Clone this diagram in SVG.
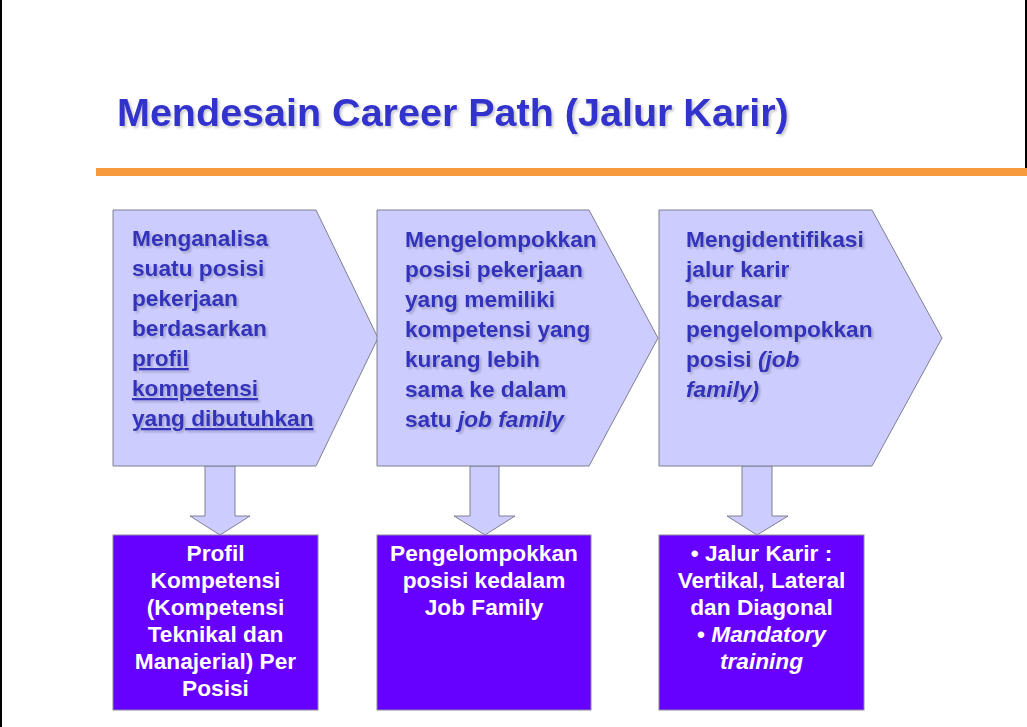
<svg xmlns="http://www.w3.org/2000/svg" width="1027" height="727" viewBox="0 0 1027 727">
<defs>
<style>
.step{fill:#ccccff;stroke:#7f7f8f;stroke-width:1}
.out{fill:#6600ff;stroke:#8a8a9a;stroke-width:1}
.arr{fill:#ccccff;stroke:#7f7f8f;stroke-width:1}
.st{font-family:"Liberation Sans",Arial,sans-serif;font-weight:bold;font-size:22.7px;fill:#3333bb}
.ot{font-family:"Liberation Sans",Arial,sans-serif;font-weight:bold;font-size:22.7px;fill:#ffffff;text-anchor:middle}
.title{font-family:"Liberation Sans",Arial,sans-serif;font-weight:bold;font-size:39.5px;fill:#3333cc}
</style>
<filter id="sh" x="-5%" y="-5%" width="115%" height="120%">
<feDropShadow dx="2" dy="2" stdDeviation="1" flood-color="#000000" flood-opacity="0.2"/>
</filter>
</defs>
<rect x="0" y="0" width="1027" height="727" fill="#ffffff"/>
<rect x="0" y="0" width="2" height="727" fill="#000000"/>
<rect x="1025" y="0" width="2" height="174" fill="#000000"/>
<rect x="96" y="168" width="931" height="8" fill="#f79a3e"/>
<text class="title" x="117" y="126" filter="url(#sh)">Mendesain Career Path (Jalur Karir)</text>

<g id="connectors">
<path class="arr" d="M205,466 H235 V516 H250 L220,535 L190,516 H205 Z"/>
<path class="arr" d="M470,466 H499 V516 H515 L485,535 L454,516 H470 Z"/>
<path class="arr" d="M742,466 H772 V516 H788 L757,535 L727,516 H742 Z"/>
</g>

<g id="step1">
<path class="step" d="M113,210 H316 L378,338 L316,466 H113 Z"/>
<g class="st" filter="url(#sh)">
<text x="132" y="246">Menganalisa</text>
<text x="132" y="276">suatu posisi</text>
<text x="132" y="306">pekerjaan</text>
<text x="132" y="336">berdasarkan</text>
<text x="132" y="366" text-decoration="underline">profil</text>
<text x="132" y="396" text-decoration="underline">kompetensi</text>
<text x="132" y="426" text-decoration="underline">yang dibutuhkan</text>
</g>
</g>

<g id="step2">
<path class="step" d="M377,210 H589 L658,338 L589,466 H377 Z"/>
<g class="st" filter="url(#sh)">
<text x="405" y="247">Mengelompokkan</text>
<text x="405" y="277">posisi pekerjaan</text>
<text x="405" y="307">yang memiliki</text>
<text x="405" y="337">kompetensi yang</text>
<text x="405" y="367">kurang lebih</text>
<text x="405" y="397">sama ke dalam</text>
<text x="405" y="427">satu <tspan font-style="italic">job family</tspan></text>
</g>
</g>

<g id="step3">
<path class="step" d="M659,210 H872 L942,338 L872,466 H659 Z"/>
<g class="st" filter="url(#sh)">
<text x="686" y="247">Mengidentifikasi</text>
<text x="686" y="277">jalur karir</text>
<text x="686" y="307">berdasar</text>
<text x="686" y="337">pengelompokkan</text>
<text x="686" y="367">posisi <tspan font-style="italic">(job</tspan></text>
<text x="686" y="397" font-style="italic">family)</text>
</g>
</g>

<g id="out1">
<rect class="out" x="113" y="535" width="205" height="175"/>
<g class="ot">
<text x="215.5" y="561">Profil</text>
<text x="215.5" y="588">Kompetensi</text>
<text x="215.5" y="615">(Kompetensi</text>
<text x="215.5" y="642">Teknikal dan</text>
<text x="215.5" y="669">Manajerial) Per</text>
<text x="215.5" y="696">Posisi</text>
</g>
</g>

<g id="out2">
<rect class="out" x="377" y="535" width="214" height="175"/>
<g class="ot">
<text x="484" y="561">Pengelompokkan</text>
<text x="484" y="588">posisi kedalam</text>
<text x="484" y="615">Job Family</text>
</g>
</g>

<g id="out3">
<rect class="out" x="659" y="535" width="205" height="175"/>
<g class="ot">
<text x="761.5" y="561">• Jalur Karir :</text>
<text x="761.5" y="588">Vertikal, Lateral</text>
<text x="761.5" y="615">dan Diagonal</text>
<text x="761.5" y="642">• <tspan font-style="italic">Mandatory</tspan></text>
<text x="761.5" y="669" font-style="italic">training</text>
</g>
</g>
</svg>
